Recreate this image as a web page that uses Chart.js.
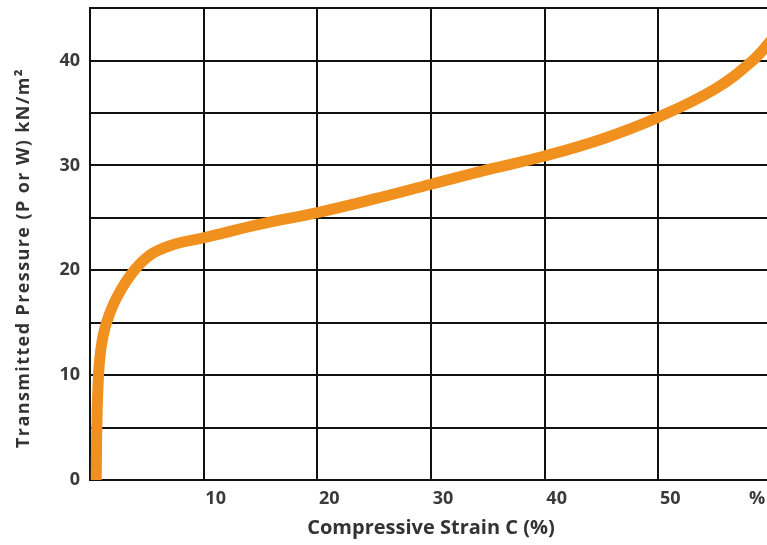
<!DOCTYPE html>
<html>
<head>
<meta charset="utf-8">
<script src="https://cdn.jsdelivr.net/npm/chart.js@4"></script>
<style>
  html, body { margin: 0; padding: 0; background: #ffffff; overflow: hidden; width: 767px; height: 545px; }
  #wrap { position: absolute; left: 0; top: 0; width: 800px; height: 545px; }
</style>
</head>
<body>
<div id="wrap"><canvas id="c"></canvas></div>
<script>
// Data
const strainX   = [0.55, 0.6, 0.75, 1.0, 1.45, 2.4, 3.9, 5.5, 7.5, 10, 15, 20, 25, 30, 35, 40, 45, 50, 55, 58.3, 60];
const pressureY = [0, 5, 10, 12.8, 15, 17.5, 20, 21.6, 22.5, 23.1, 24.4, 25.5, 26.8, 28.2, 29.6, 30.9, 32.5, 34.6, 37.3, 40, 42];
const xTickLabels = {0: '', 10: '10', 20: '20', 30: '30', 40: '40', 50: '50', 60: '%    '};
const yTickLabels = {0: '0', 10: '10', 20: '20', 30: '30', 40: '40'};
const xTitle = 'Compressive Strain C (%)';
const yTitle = 'Transmitted Pressure (P or W) kN/m²';

const points = strainX.map((x, i) => ({x: x, y: pressureY[i]}));
const FONT = '"Open Sans", "Noto Sans", sans-serif';

const yTitlePlugin = {
  id: 'yTitlePlugin',
  afterDraw(chart) {
    const ctx = chart.ctx;
    ctx.save();
    ctx.translate(24, 258);
    ctx.rotate(-Math.PI / 2);
    ctx.font = 'bold 18px ' + FONT;
    try { ctx.letterSpacing = '1.4px'; } catch (e) {}
    ctx.fillStyle = '#333333';
    ctx.textAlign = 'center';
    ctx.textBaseline = 'middle';
    ctx.fillText(yTitle, 0, 0);
    ctx.restore();
  }
};

new Chart(document.getElementById('c'), {
  type: 'scatter',
  data: {
    datasets: [{
      data: points,
      showLine: true,
      borderColor: '#F0901E',
      borderWidth: 11,
      pointRadius: 0,
      fill: false,
      tension: 0.4,
      borderCapStyle: 'butt'
    }]
  },
  options: {
    responsive: true,
    maintainAspectRatio: false,
    animation: false,
    layout: { padding: { top: 0, right: 28, left: 0, bottom: 0 } },
    plugins: { legend: { display: false }, tooltip: { enabled: false } },
    scales: {
      x: {
        type: 'linear',
        min: 0, max: 60,
        afterFit: (s) => { s.height = 65; },
        grid: { color: '#111111', lineWidth: 2, drawTicks: false },
        border: { color: '#111111', width: 2 },
        ticks: {
          stepSize: 10,
          padding: 8,
          labelOffset: 12,
          align: 'inner',
          maxRotation: 0,
          color: '#3a3a3a',
          font: { family: FONT, size: 18, weight: 'bold' },
          callback: (v) => (xTickLabels[v] !== undefined ? xTickLabels[v] : '')
        },
        title: {
          display: true,
          text: xTitle,
          color: '#333333',
          font: { family: FONT, size: 20, weight: 'bold' },
          padding: { top: 0, bottom: 5 }
        }
      },
      y: {
        type: 'linear',
        min: 0, max: 45,
        afterFit: (s) => { s.width = 90; },
        grid: { color: '#111111', lineWidth: 2, drawTicks: true, tickLength: 10, tickColor: 'rgba(0,0,0,0)' },
        border: { color: '#111111', width: 2 },
        ticks: {
          stepSize: 5,
          padding: 0,
          color: '#3a3a3a',
          font: { family: FONT, size: 18, weight: 'bold', lineHeight: 0.9 },
          callback: (v) => (yTickLabels[v] !== undefined ? yTickLabels[v] : '')
        }
      }
    }
  },
  plugins: [yTitlePlugin]
});
</script>
</body>
</html>
